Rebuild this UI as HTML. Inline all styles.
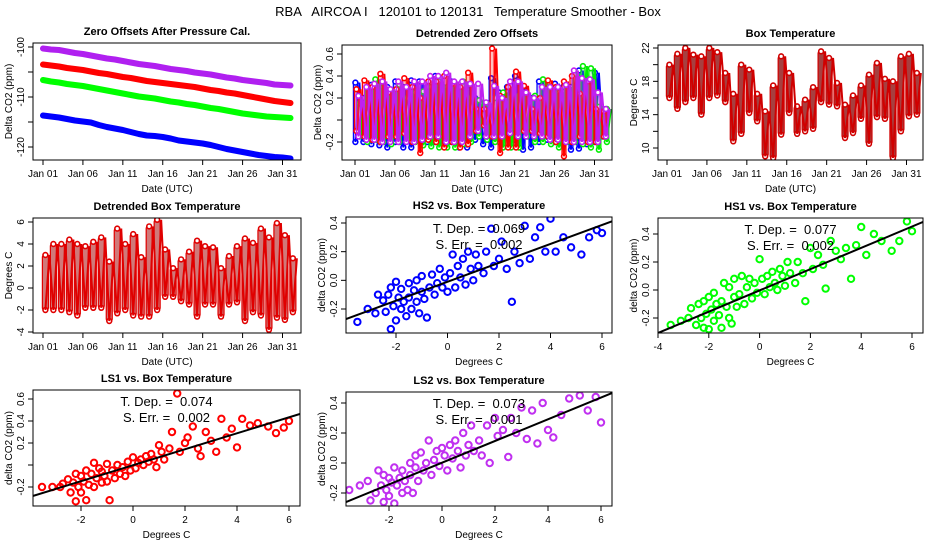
<!DOCTYPE html>
<html><head><meta charset="utf-8"><style>
html,body{margin:0;padding:0;background:#fff;}
svg{display:block;font-family:"Liberation Sans",Arial,sans-serif;}
</style></head><body>
<svg id="chart" width="936" height="540" viewBox="0 0 936 540" xmlns="http://www.w3.org/2000/svg">
<rect width="936" height="540" fill="#fff"/>
<text x="468" y="16" text-anchor="middle" font-size="13" style="white-space:pre">RBA   AIRCOA I   120101 to 120131   Temperature Smoother - Box</text>
</svg>
<script>
// ---- data ----
const dateTicks = ["Jan 01","Jan 06","Jan 11","Jan 16","Jan 21","Jan 26","Jan 31"];
const zeroPurple = [-100.3,-100.5,-100.6,-100.9,-101.2,-101.4,-101.7,-102.0,-102.3,-102.5,-102.8,-103.1,-103.4,-103.6,-103.8,-104.1,-104.4,-104.6,-104.8,-105.1,-105.3,-105.5,-105.8,-106.1,-106.3,-106.6,-106.8,-107.0,-107.2,-107.5,-107.6,-107.7];
const zeroRed = [-103.5,-103.7,-103.9,-104.2,-104.4,-104.6,-104.9,-105.2,-105.4,-105.7,-106.0,-106.2,-106.5,-106.8,-107.0,-107.2,-107.4,-107.6,-107.8,-108.0,-108.3,-108.6,-108.8,-109.1,-109.3,-109.6,-109.9,-110.2,-110.5,-110.8,-111.0,-111.2];
const zeroGreen = [-106.6,-106.9,-107.1,-107.4,-107.6,-107.8,-108.1,-108.4,-108.7,-109.0,-109.3,-109.6,-109.9,-110.1,-110.3,-110.6,-110.9,-111.1,-111.4,-111.6,-111.9,-112.2,-112.4,-112.7,-113.0,-113.3,-113.5,-113.7,-113.9,-114.0,-114.1,-114.2];
const zeroBlue = [-113.7,-113.9,-114.1,-114.4,-114.7,-114.9,-115.1,-115.6,-116.0,-116.3,-116.6,-117.0,-117.4,-117.7,-117.8,-118.0,-118.3,-118.7,-118.9,-119.1,-119.3,-119.6,-120.0,-120.4,-120.7,-121.0,-121.3,-121.6,-121.8,-122.0,-122.1,-122.3];

const detBlueHi = [0.34,0.2,0.32,0.25,0.3,0.35,0.3,0.36,0.35,0.3,0.4,0.3,0.35,0.3,0.28,0.2,0.15,0.38,0.25,0.3,0.4,0.3,0.2,0.35,0.3,0.33,0.3,0.3,0.45,0.35,0.43,0.1];
const detBlueLo = [-0.2,-0.2,-0.22,-0.23,-0.25,-0.2,-0.25,-0.25,-0.18,-0.2,-0.2,-0.22,-0.2,-0.25,-0.25,-0.18,-0.22,-0.25,-0.2,-0.15,-0.18,-0.27,-0.25,-0.2,-0.18,-0.2,-0.22,-0.27,-0.26,-0.22,-0.2,-0.15];
const detGreenHi = [0.15,0.28,0.37,0.3,0.27,0.32,0.2,0.25,0.26,0.3,0.35,0.3,0.32,0.35,0.2,0.18,0.15,0.2,0.25,0.2,0.22,0.2,0.22,0.37,0.3,0.25,0.3,0.42,0.49,0.47,0.12,0.1];
const detGreenLo = [-0.15,-0.2,-0.18,-0.2,-0.22,-0.2,-0.18,-0.2,-0.23,-0.24,-0.25,-0.25,-0.25,-0.22,-0.2,-0.15,-0.18,-0.2,-0.25,-0.25,-0.25,-0.15,-0.2,-0.2,-0.22,-0.25,-0.2,-0.2,-0.22,-0.25,-0.27,-0.2];
const detRedHi = [0.28,0.36,0.3,0.42,0.25,0.28,0.38,0.3,0.2,0.35,0.35,0.4,0.33,0.3,0.43,0.1,0.1,0.65,0.22,0.3,0.44,0.31,0.1,0.2,0.36,0.3,0.35,0.4,0.24,0.35,0.1,0.08];
const detRedLo = [-0.1,-0.15,-0.18,-0.2,-0.15,-0.15,-0.12,-0.2,-0.3,-0.18,-0.2,-0.25,-0.2,-0.25,-0.22,-0.1,-0.05,-0.15,-0.3,-0.25,-0.25,-0.1,-0.1,-0.12,-0.15,-0.2,-0.33,-0.2,-0.15,-0.2,-0.2,-0.15];
const detPurpleHi = [0.22,0.3,0.33,0.35,0.28,0.35,0.3,0.35,0.35,0.4,0.4,0.43,0.35,0.35,0.33,0.33,0.16,0.31,0.2,0.35,0.35,0.25,0.2,0.3,0.3,0.3,0.32,0.45,0.38,0.37,0.25,0.1];
const detPurpleLo = [-0.15,-0.18,-0.18,-0.2,-0.2,-0.2,-0.2,-0.2,-0.18,-0.15,-0.15,-0.2,-0.2,-0.2,-0.15,-0.1,-0.15,-0.15,-0.15,-0.12,-0.15,-0.15,-0.15,-0.15,-0.18,-0.18,-0.2,-0.2,-0.2,-0.2,-0.2,-0.15];

const boxTempHi = [20,21.3,22,21.2,21,22,21.5,19,16.5,20,19.4,16.5,14.4,17.5,21,19,15,15.8,17.3,21.6,20.8,17.8,15.2,16.3,17.5,18.8,20.2,18.3,18,21,21.3,19];
const boxTempLo = [16,14.7,15.5,16,14,16,16.3,15.5,10.8,11.7,14.2,13.2,9,8.8,11.6,14.2,11.7,12,12.3,15.5,15.2,15,11.2,11.8,13.5,10.5,13.7,13.5,8.8,12,13.8,14];

const detTempHi = [3,4,4,4.4,4,3.8,4.2,4.6,2.4,5.4,4,4.9,2.8,5.6,6.2,3.5,1.8,2.6,3.3,4.3,3.8,3.7,1.8,2.9,3.8,4.5,4.1,5.4,4.6,5.9,4.8,2.7];
const detTempLo = [-2,-2,-2,-2.2,-2.5,-1.8,-1.8,-1.8,-3,-2.3,-2,-2.5,-2.6,-2.6,-2,-0.8,-0.8,-1.2,-1.5,-2.6,-1.5,-1.5,-2.6,-1.5,-1.3,-3,-2.2,-2.5,-3.8,-2.7,-2.9,-2.2];

const tempX = [-3.5,-3.1,-2.8,-2.7,-2.5,-2.4,-2.3,-2.2,-2.2,-2.1,-2.0,-2.0,-1.9,-1.8,-1.8,-1.7,-1.6,-1.5,-1.5,-1.4,-1.3,-1.2,-1.2,-1.1,-1.0,-1.0,-0.9,-0.8,-0.7,-0.6,-0.5,-0.4,-0.3,-0.2,-0.1,0.0,0.1,0.2,0.3,0.4,0.5,0.6,0.7,0.8,0.9,1.0,1.1,1.2,1.4,1.5,1.7,1.8,2.0,2.1,2.3,2.5,2.6,2.8,3.0,3.2,3.4,3.6,3.8,4.0,4.2,4.5,4.8,5.2,5.5,5.8,6.0];
const hs2Y = [-0.29,-0.2,-0.23,-0.1,-0.14,-0.22,-0.1,-0.34,-0.05,-0.18,-0.28,-0.01,-0.12,-0.2,-0.06,-0.15,-0.25,-0.02,-0.12,-0.2,-0.07,-0.15,0.0,-0.23,-0.08,0.03,-0.13,-0.26,-0.05,0.04,-0.1,-0.02,0.08,-0.05,0.02,-0.08,0.05,0.18,-0.05,0.1,0.02,0.15,-0.03,0.2,0.08,0.0,0.18,0.1,0.05,0.2,0.36,0.1,0.15,0.27,0.08,-0.15,0.2,0.12,0.38,0.15,0.3,0.37,0.2,0.43,0.2,0.3,0.23,0.18,0.3,0.35,0.33];
const hs1Y = [-0.25,-0.22,-0.2,-0.13,-0.25,-0.1,-0.2,-0.27,-0.08,-0.17,-0.28,-0.05,-0.14,-0.22,-0.02,-0.1,-0.18,-0.08,-0.27,0.05,-0.12,-0.2,0.02,-0.24,-0.05,0.08,-0.12,-0.03,0.1,-0.1,0.02,0.08,-0.06,0.05,-0.02,0.22,0.08,-0.03,0.1,0.02,0.13,0.05,0.0,0.15,0.1,0.03,0.2,0.12,0.05,0.2,0.12,-0.08,0.3,0.15,0.25,0.18,0.01,0.35,0.28,0.22,0.3,0.08,0.32,0.45,0.25,0.4,0.35,0.28,0.35,0.49,0.42];
const ls1Y = [-0.2,-0.2,-0.2,-0.17,-0.13,-0.25,-0.16,-0.33,-0.08,-0.2,-0.25,-0.1,-0.15,-0.32,-0.05,-0.18,-0.08,-0.2,0.02,-0.12,-0.03,-0.16,-0.06,-0.1,0.01,-0.15,-0.32,-0.05,-0.12,0.0,-0.08,-0.02,-0.1,0.03,-0.05,0.07,-0.03,0.02,0.05,0.0,0.08,0.03,0.1,0.05,-0.02,0.18,0.12,0.05,0.15,0.3,0.65,0.12,0.2,0.25,0.35,0.15,0.08,0.3,0.22,0.12,0.42,0.25,0.33,0.16,0.42,0.36,0.38,0.35,0.29,0.34,0.4];
const ls2Y = [-0.18,-0.15,-0.12,-0.25,-0.2,-0.05,-0.15,-0.26,-0.08,-0.18,-0.1,-0.22,-0.13,-0.03,-0.27,-0.15,-0.1,-0.2,-0.05,-0.12,-0.18,0.0,-0.08,-0.2,-0.03,0.05,-0.12,0.07,-0.05,0.0,0.15,-0.08,0.02,0.08,-0.02,0.1,0.05,-0.05,0.12,0.03,0.15,0.08,-0.03,0.2,0.05,0.12,0.25,0.08,0.15,0.05,0.25,0.0,0.3,0.18,0.22,0.04,0.3,0.2,0.37,0.16,0.35,0.13,0.4,0.22,0.17,0.32,0.43,0.45,0.35,0.44,0.27];
const fitSlope = [0.066, 0.076, 0.0726, 0.0724];
const fitIntercept = [-0.01, -0.003, -0.002, 0.002];
const fitTDep = ["0.069","0.077","0.074","0.073"];
const fitSErr = ["0.002","0.002","0.002","0.001"];

// ---- drawing ----
const NS = "http://www.w3.org/2000/svg";
const svg = document.getElementById("chart");
function mk(tag, attrs, parent) {
  const e = document.createElementNS(NS, tag);
  for (const k in attrs) e.setAttribute(k, attrs[k]);
  (parent || svg).appendChild(e);
  return e;
}
function linScale(d0, d1, r0, r1) { return v => r0 + (v - d0) * (r1 - r0) / (d1 - d0); }

function panel(p) {
  const g = mk("g", {});
  
  
  const t = mk("text", {x:(p.L+p.R)/2, y:p.T-8, "text-anchor":"middle", "font-size":11, "font-weight":"bold"}, g);
  t.textContent = p.title;
  
  
  const xl = mk("text", {x:(p.L+p.R)/2, y:p.B+32, "text-anchor":"middle", "font-size":10}, g);
  xl.textContent = p.xlabel;
  
  
  const cy = (p.T+p.B)/2, cx = p.L-21;
  const yl = mk("text", {x:cx, y:cy, "text-anchor":"middle", "font-size":10, transform:`rotate(-90 ${cx} ${cy})`}, g);
  yl.textContent = p.ylabel;
  
  
  p.xticks.forEach((v, i) => {
    const x = p.sx(v);
    mk("line", {x1:x, x2:x, y1:p.B, y2:p.B+5, stroke:"#000"}, g);
    const tl = mk("text", {x:x, y:p.B+17, "text-anchor":"middle", "font-size":10}, g);
    tl.textContent = p.xlabels[i];
    
    
  });
  p.yticks.forEach((v, i) => {
    const y = p.sy(v);
    mk("line", {x1:p.L-5, x2:p.L, y1:y, y2:y, stroke:"#000"}, g);
    if (p.ylabels[i] !== "") {
      const X = p.L-9;
      const tl = mk("text", {x:X, y:y, "text-anchor":"middle", "font-size":10, transform:`rotate(-90 ${X} ${y})`}, g);
      tl.textContent = p.ylabels[i];
      
      
    }
  });
  const clipId = "clip" + p.name;
  const cp = mk("clipPath", {id:clipId}, g);
  mk("rect", {x:p.L, y:p.T, width:p.R-p.L, height:p.B-p.T}, cp);
  const plot = mk("g", {"clip-path":`url(#${clipId})`}, g);
  
  
  p.draw(plot);
  const box = mk("rect", {x:p.L, y:p.T, width:p.R-p.L, height:p.B-p.T, fill:"none", stroke:"#000", "stroke-width":1}, g);
  
  
}

function dateAxis(base) { return linScale(0, 30, base, base + 239.5); }
const dayTickVals = [0,5,10,15,20,25,30];

function columns(g, sx, sy, hi, lo, stroke, fill, w, dx, op, name) {
  const grp = mk("g", {}, g);
  
  
  hi.forEach((h, d) => {
    const x = sx(d + 0.3) + dx;
    const yT = sy(h), yB = sy(lo[d]);
    mk("rect", {x:x - w/2, y:yT, width:w, height:Math.max(1, yB - yT), fill:fill, "fill-opacity":op, stroke:stroke, "stroke-width":1.2, rx:2}, grp);
    mk("circle", {cx:x, cy:yT, r:2.4, fill:"#fff", stroke:stroke, "stroke-width":1.6}, grp);
    mk("circle", {cx:x, cy:yB, r:2.4, fill:"#fff", stroke:stroke, "stroke-width":1.6}, grp);
  });
  let pts = [];
  hi.forEach((h, d) => {
    pts.push((sx(d + 0.3) + dx) + "," + sy(lo[d]));
    pts.push((sx(d + 0.8) + dx) + "," + sy(h));
  });
  mk("polyline", {points:pts.join(" "), fill:"none", stroke:stroke, "stroke-width":2}, grp);
}

// Panel 1: zero offsets
{
  const sx = dateAxis(43), sy = linScale(-100, -120, 47, 147);
  panel({name:"zero-offsets-panel", title:"Zero Offsets After Pressure Cal.", xlabel:"Date (UTC)", ylabel:"Delta CO2 (ppm)",
    L:33, R:301, T:43, B:160, sx, sy, xticks:dayTickVals, xlabels:dateTicks,
    yticks:[-100,-105,-110,-115,-120], ylabels:["-100","","-110","","-120"],
    draw:g => {
      [[zeroBlue,"#0000ff","series-hs2"],[zeroGreen,"#00ff00","series-hs1"],[zeroRed,"#ff0000","series-ls1"],[zeroPurple,"#b020f0","series-ls2"]].forEach(([arr,c,n]) => {
        const pts = arr.map((v,d)=>sx(d)+","+sy(v)).join(" ");
        const pl = mk("polyline", {points:pts, fill:"none", stroke:c, "stroke-width":6, "stroke-linejoin":"round", "stroke-linecap":"round"}, g);
        
        
      });
    }});
}
// Panel 2: detrended zero offsets
{
  const sx = dateAxis(355), sy = linScale(0.6, -0.2, 54, 142);
  panel({name:"detrended-zero-offsets-panel", title:"Detrended Zero Offsets", xlabel:"Date (UTC)", ylabel:"Delta CO2 (ppm)",
    L:342, R:612, T:45, B:160, sx, sy, xticks:dayTickVals, xlabels:dateTicks,
    yticks:[-0.2,0,0.2,0.4,0.6], ylabels:["-0.2","","0.2","0.4","0.6"],
    draw:g => {
      columns(g, sx, sy, detBlueHi, detBlueLo, "#0000ff", "#4040ff", 4, -2, 0.3, "series-hs2");
      columns(g, sx, sy, detGreenHi, detGreenLo, "#00ee00", "#40ff40", 4, 2, 0.3, "series-hs1");
      columns(g, sx, sy, detRedHi, detRedLo, "#ff0000", "#ff3030", 4, -1, 0.3, "series-ls1");
      columns(g, sx, sy, detPurpleHi, detPurpleLo, "#c020f0", "#d040e0", 4, 1, 0.3, "series-ls2");
    }});
}
// Panel 3: box temperature
{
  const sx = dateAxis(667), sy = linScale(22, 10, 48, 148);
  panel({name:"box-temperature-panel", title:"Box Temperature", xlabel:"Date (UTC)", ylabel:"Degrees C",
    L:658, R:923, T:45, B:160, sx, sy, xticks:dayTickVals, xlabels:dateTicks,
    yticks:[10,12,14,16,18,20,22], ylabels:["10","","14","","18","","22"],
    draw:g => { columns(g, sx, sy, boxTempHi, boxTempLo, "#d00000", "#901010", 6, 0, 0.8, "box-temperature-series"); }});
}
// Panel 4: detrended box temperature
{
  const sx = dateAxis(43), sy = linScale(6, -4, 222, 332);
  panel({name:"detrended-box-temperature-panel", title:"Detrended Box Temperature", xlabel:"Date (UTC)", ylabel:"Degrees C",
    L:33, R:301, T:218, B:333, sx, sy, xticks:dayTickVals, xlabels:dateTicks,
    yticks:[-4,-2,0,2,4,6], ylabels:["-4","-2","0","2","4","6"],
    draw:g => { columns(g, sx, sy, detTempHi, detTempLo, "#e00000", "#b02020", 6, 0, 0.6, "detrended-temperature-series"); }});
}
function scatterPanel(cfg) {
  panel({name:cfg.name, title:cfg.title, xlabel:"Degrees C", ylabel:"delta CO2 (ppm)",
    L:cfg.L, R:cfg.R, T:cfg.T, B:cfg.B, sx:cfg.sx, sy:cfg.sy, xticks:cfg.xticks, xlabels:cfg.xticks.map(String),
    yticks:cfg.yticks, ylabels:cfg.ylabels,
    draw:g => {
      tempX.forEach((x, i) => {
        const c = mk("circle", {cx:cfg.sx(x), cy:cfg.sy(cfg.ys[i]), r:3.2, fill:"none", stroke:cfg.color, "stroke-width":2}, g);
        
        
      });
      const x0 = -5, x1 = 7, k = cfg.idx;
      const ln = mk("line", {x1:cfg.sx(x0), y1:cfg.sy(fitIntercept[k]+fitSlope[k]*x0), x2:cfg.sx(x1), y2:cfg.sy(fitIntercept[k]+fitSlope[k]*x1), stroke:"#000", "stroke-width":2}, g);
      
      
    }});
  const cx = (cfg.L+cfg.R)/2;
  const t1 = mk("text", {x:cx, y:cfg.T+16, "text-anchor":"middle", "font-size":13, style:"white-space:pre"});
  t1.textContent = "T. Dep. =  " + fitTDep[cfg.idx];
  
  
  const t2 = mk("text", {x:cx, y:cfg.T+32, "text-anchor":"middle", "font-size":13, style:"white-space:pre"});
  t2.textContent = "S. Err. =  " + fitSErr[cfg.idx];
  
  
}
scatterPanel({name:"hs2-scatter-panel", title:"HS2 vs. Box Temperature", idx:0, color:"#0000ff", ys:hs2Y,
  L:346, R:612, T:217, B:333, sx:linScale(-2, 6, 396, 602), sy:linScale(0.4, -0.2, 223, 309),
  xticks:[-2,0,2,4,6], yticks:[-0.2,0,0.2,0.4], ylabels:["-0.2","0.0","0.2","0.4"]});
scatterPanel({name:"hs1-scatter-panel", title:"HS1 vs. Box Temperature", idx:1, color:"#00ff00", ys:hs1Y,
  L:658, R:923, T:218, B:333, sx:linScale(-4, 6, 658, 912), sy:linScale(0.4, -0.2, 234, 318),
  xticks:[-4,-2,0,2,4,6], yticks:[-0.2,0,0.2,0.4], ylabels:["-0.2","0.0","0.2","0.4"]});
scatterPanel({name:"ls1-scatter-panel", title:"LS1 vs. Box Temperature", idx:2, color:"#ff0000", ys:ls1Y,
  L:33, R:300, T:390, B:506, sx:linScale(-2, 6, 81, 289), sy:linScale(0.6, -0.2, 399, 487),
  xticks:[-2,0,2,4,6], yticks:[-0.2,0,0.2,0.4,0.6], ylabels:["-0.2","","0.2","0.4","0.6"]});
scatterPanel({name:"ls2-scatter-panel", title:"LS2 vs. Box Temperature", idx:3, color:"#c030f0", ys:ls2Y,
  L:346, R:612, T:392, B:506, sx:linScale(-2, 6, 389, 601), sy:linScale(0.4, -0.2, 403, 493),
  xticks:[-2,0,2,4,6], yticks:[-0.2,0,0.2,0.4], ylabels:["-0.2","0.0","0.2","0.4"]});
</script>
</body></html>
